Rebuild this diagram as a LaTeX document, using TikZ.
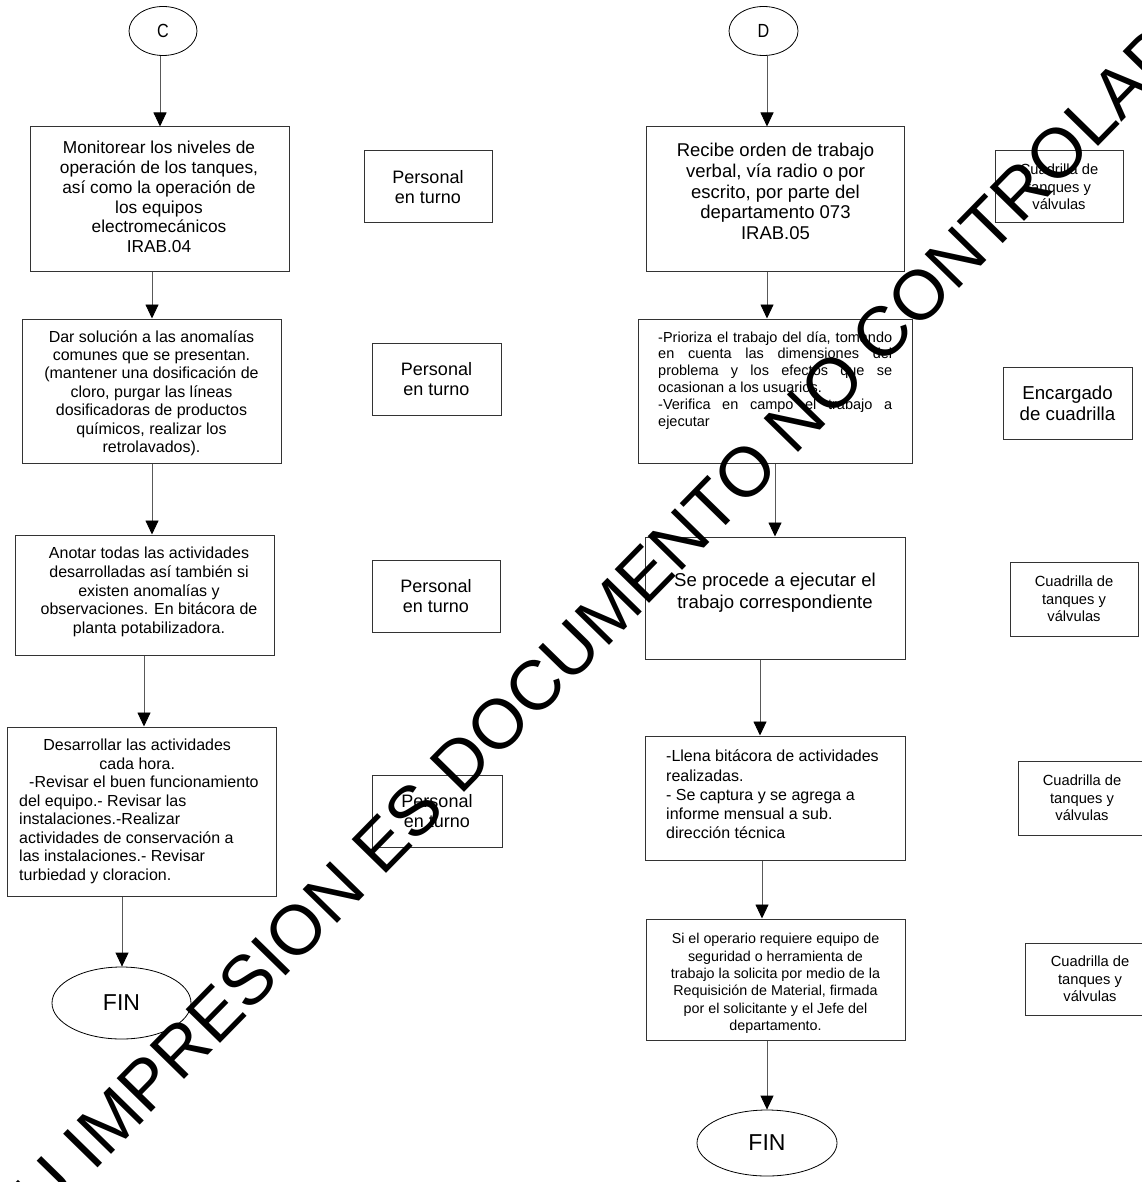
\documentclass[tikz,border=0pt]{standalone}
\usepackage{fontspec}
\setmainfont{Liberation Sans}
\usepackage{graphicx}
\usetikzlibrary{arrows.meta,shapes.geometric}
\begin{document}
\begin{tikzpicture}[x=1pt,y=-1pt,
  box/.style={draw=black!80,line width=1pt,rectangle,inner sep=0pt,align=center},
  oval/.style={draw=black,line width=0.8pt,ellipse,inner sep=0pt},
  arr/.style={draw=black!65,line width=0.9pt,-{Triangle[width=13pt,length=14pt,color=black]}},
  txt/.style={inner sep=0pt,align=center,text=black},
  side/.style={box,font=\fontsize{18}{20}\selectfont},
  crew/.style={box,font=\fontsize{14.7}{17.5}\selectfont},
  wmark/.style={inner sep=0pt,anchor=base,rotate=45.6,text=black,font=\fontsize{70}{84}\selectfont}]
\fill[white] (0,0) rectangle (1141,1182);
\useasboundingbox (0,0) rectangle (1141,1182);

% ---------------- left column ----------------
\node[oval,minimum width=68pt,minimum height=49pt,font=\fontsize{19}{22}\selectfont] (c) at (163,31) {\scalebox{0.85}[1]{C}};
\node[box,minimum width=259pt,minimum height=144pt] (b1) at (159.5,199) {};
\node[txt,font=\fontsize{17.3}{19.7}\selectfont] (b1t) at (159,197) {Monitorear los niveles de\\operación de los tanques,\\así como la operación de\\los equipos\\electromecánicos\\IRAB.04};
\node[side,minimum width=128pt,minimum height=72pt] (p1) at (428,187) {Personal\\en turno};

\node[box,minimum width=259pt,minimum height=144pt] (b2) at (151.5,391) {};
\node[txt,font=\fontsize{16}{18.4}\selectfont] (b2t) at (151.5,393) {Dar solución a las anomalías\\comunes que se presentan.\\(mantener una dosificación de\\cloro, purgar las líneas\\dosificadoras de productos\\químicos, realizar los\\retrolavados).};
\node[side,minimum width=129pt,minimum height=72pt] (p2) at (436.5,379) {Personal\\en turno};

\node[box,minimum width=259pt,minimum height=120pt] (b3) at (144.5,595) {};
\node[txt,font=\fontsize{16}{18.6}\selectfont] (b3t) at (149,592) {Anotar todas las actividades\\desarrolladas así también si\\existen anomalías y\\observaciones. En bitácora de\\planta potabilizadora.};
\node[side,minimum width=128pt,minimum height=72pt] (p3) at (436,596) {Personal\\en turno};

\node[box,minimum width=269pt,minimum height=169pt] (b4) at (141.5,811.5) {};
\node[txt,align=left,anchor=west,font=\fontsize{16}{18.5}\selectfont] (b4t) at (19,811.5) {\makebox[236pt][c]{Desarrollar las actividades}\\\makebox[236pt][c]{cada hora.}\\\hspace*{10pt}-Revisar el buen funcionamiento\\del equipo.- Revisar las\\instalaciones.-Realizar\\actividades de conservación a\\las instalaciones.- Revisar\\turbiedad y cloracion.};
\node[side,minimum width=130pt,minimum height=72pt] (p4) at (437,811) {Personal\\en turno};

\node[oval,minimum width=139pt,minimum height=72pt,font=\fontsize{23}{26}\selectfont] (fin1) at (121.5,1003) {FIN};

\draw[arr] ([xshift=-3pt]c.south) -- ([xshift=0.5pt]b1.north);
\draw[arr] ([xshift=-7.5pt]b1.south) -- ([xshift=0.5pt]b2.north);
\draw[arr] ([xshift=0.5pt]b2.south) -- ([xshift=7.5pt]b3.north);
\draw[arr] ([xshift=-0.5pt]b3.south) -- ([xshift=2.5pt]b4.north);
\draw[arr] ([xshift=-19.5pt]b4.south) -- ([xshift=0.5pt]fin1.north);

% ---------------- right column ----------------
\node[oval,minimum width=69pt,minimum height=49pt,font=\fontsize{19}{22}\selectfont] (d) at (763.5,31) {\scalebox{0.85}[1]{D}};
\node[box,minimum width=258pt,minimum height=144pt] (r1) at (775,199) {};
\node[txt,font=\fontsize{18.5}{20.8}\selectfont] (r1t) at (775.5,191.5) {Recibe orden de trabajo\\verbal, vía radio o por\\escrito, por parte del\\departamento 073\\IRAB.05};
\node[crew,minimum width=128pt,minimum height=72pt] (q1) at (1059,187) {Cuadrilla de\\tanques y\\válvulas};

\node[box,minimum width=274pt,minimum height=144pt] (r2) at (775,391) {};
\node[inner sep=0pt,anchor=west,text width=234pt,align=justify,font=\fontsize{14.5}{16.9}\selectfont] (r2t) at (658,380.5) {\tolerance=10000\hyphenpenalty=10000\noindent -Prioriza el trabajo del día, tomando\linebreak en cuenta las dimensiones del\linebreak problema y los efectos que se\linebreak ocasionan a los usuarios.\newline -Verifica en campo el trabajo a\linebreak ejecutar};
\node[side,font=\fontsize{18.7}{21}\selectfont,minimum width=129pt,minimum height=72pt] (enc) at (1067.5,403) {Encargado\\de cuadrilla};

\node[box,minimum width=260pt,minimum height=122pt] (r3) at (775,598) {};
\node[txt,font=\fontsize{18.6}{21.7}\selectfont] (r3t) at (775,593) {Se procede a ejecutar el\\trabajo correspondiente};
\node[crew,minimum width=128pt,minimum height=74pt] (q2) at (1074,599) {Cuadrilla de\\tanques y\\válvulas};

\node[box,minimum width=260pt,minimum height=124pt] (r4) at (775,798) {};
\node[txt,align=left,anchor=west,font=\fontsize{16}{19.2}\selectfont] (r4t) at (666,794.5) {-Llena bitácora de actividades\\realizadas.\\- Se captura y se agrega a\\informe mensual a sub.\\dirección técnica};
\node[crew,minimum width=128pt,minimum height=74pt] (q3) at (1082,798) {Cuadrilla de\\tanques y\\válvulas};

\node[box,minimum width=259pt,minimum height=121pt] (r5) at (775.5,979.5) {};
\node[txt,font=\fontsize{14.3}{17.3}\selectfont] (r5t) at (775.5,983.5) {Si el operario requiere equipo de\\seguridad o herramienta de\\trabajo la solicita por medio de la\\Requisición de Material, firmada\\por el solicitante y el Jefe del\\departamento.};
\node[crew,minimum width=130pt,minimum height=72pt] (q4) at (1090,979) {Cuadrilla de\\tanques y\\válvulas};

\node[oval,minimum width=140pt,minimum height=66pt,font=\fontsize{23}{26}\selectfont] (fin2) at (767,1143) {FIN};

\draw[arr] ([xshift=3.5pt]d.south) -- ([xshift=-8pt]r1.north);
\draw[arr] ([xshift=-8pt]r1.south) -- ([xshift=-8pt]r2.north);
\draw[arr] (r2.south) -- (r3.north);
\draw[arr] ([xshift=-15pt]r3.south) -- ([xshift=-15pt]r4.north);
\draw[arr] ([xshift=-13pt]r4.south) -- ([xshift=-13.5pt]r5.north);
\draw[arr] ([xshift=-8.5pt]r5.south) -- (fin2.north);

% ---------------- watermark ----------------
\node[wmark] (wm) at (619.7,634.8) {SU IMPRESION ES DOCUMENTO NO CONTROLADO};
\end{tikzpicture}
\end{document}
